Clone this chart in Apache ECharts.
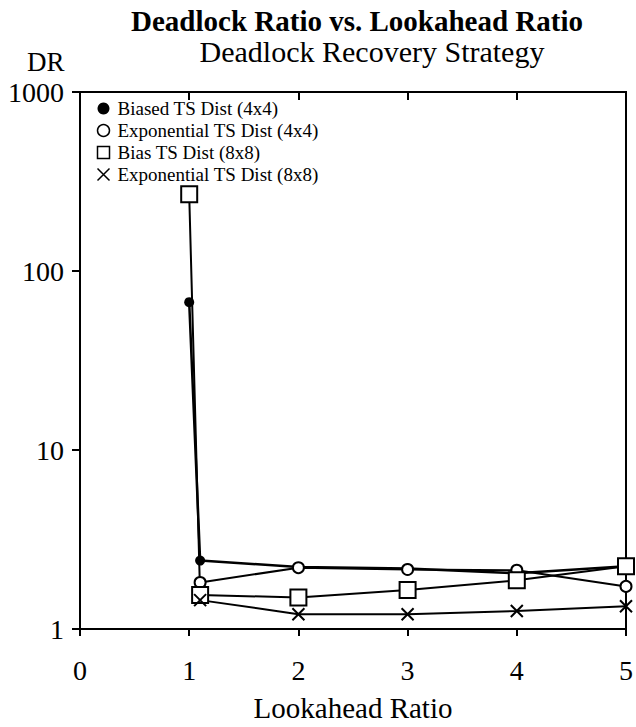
<!DOCTYPE html>
<html>
<head>
<meta charset="utf-8">
<script src="https://cdn.jsdelivr.net/npm/echarts@6/dist/echarts.min.js"></script>
<style>
  html, body { margin: 0; padding: 0; background: #fff; }
  #chart { width: 636px; height: 727px; }
</style>
</head>
<body>
<div id="chart"></div>
<script>
// lookahead ratios
const lookahead = [1, 1.1, 2, 3, 4, 5];
// deadlock ratio per series (null = no point)
const biased4x4 = [67, 2.41, 2.22, 2.18, 2.05, 2.24];
const expo4x4 = [null, 1.82, 2.2, 2.15, 2.13, 1.73];
const bias8x8 = [268, 1.55, 1.5, 1.65, 1.87, 2.24];
const expo8x8 = [null, 1.45, 1.21, 1.21, 1.26, 1.34];
const seriesNames = [
  "Biased TS Dist (4x4)",
  "Exponential TS Dist (4x4)",
  "Bias TS Dist (8x8)",
  "Exponential TS Dist (8x8)"
];
const xTicks = [0, 1, 2, 3, 4, 5];
const yTicks = [1, 10, 100, 1000];

const FONT = "'Liberation Serif', 'Times New Roman', serif";
const CROSS = "path://M0,0L10,10M10,0L0,10";

function pairs(vals) {
  const out = [];
  vals.forEach((v, i) => { if (v != null) out.push([lookahead[i], v]); });
  return out;
}

const chart = echarts.init(document.getElementById("chart"), null, { renderer: "svg" });

const option = {
  animation: false,
  backgroundColor: "#fff",
  title: [
    {
      text: "Deadlock Ratio vs. Lookahead Ratio",
      left: 352, top: 1, textAlign: "center",
      textStyle: { fontFamily: FONT, fontWeight: "bold", fontSize: 29, color: "#000" }
    },
    {
      text: "Deadlock Recovery Strategy",
      left: 367, top: 31, textAlign: "center",
      textStyle: { fontFamily: FONT, fontWeight: "normal", fontSize: 30, color: "#000" }
    }
  ],
  graphic: [
    {
      type: "text", left: 27, top: 48,
      style: { text: "DR", font: "27px " + FONT, fill: "#000" }
    }
  ],
  legend: {
    orient: "vertical",
    left: 90, top: 94,
    itemWidth: 12, itemHeight: 12, itemGap: 3,
    textStyle: { fontFamily: FONT, fontSize: 19, color: "#000", padding: [0, 0, 0, 3] },
    data: [
      { name: seriesNames[0], icon: "circle", itemStyle: { color: "#000", borderWidth: 0 } },
      { name: seriesNames[1], icon: "circle", itemStyle: { color: "#fff", borderColor: "#000", borderWidth: 1.5 } },
      { name: seriesNames[2], icon: "rect", itemStyle: { color: "#fff", borderColor: "#000", borderWidth: 1.5 } },
      { name: seriesNames[3], icon: CROSS, itemStyle: { color: "none", borderColor: "#000", borderWidth: 1.5 } }
    ]
  },
  grid: {
    left: 80, right: 8, top: 92, bottom: 95,
    show: true, borderColor: "#000", borderWidth: 2, backgroundColor: "transparent"
  },
  xAxis: [
    {
      type: "value", min: 0, max: 5, interval: 1,
      name: "Lookahead Ratio", nameLocation: "middle", nameGap: 64,
      nameTextStyle: { fontFamily: FONT, fontSize: 29, color: "#000" },
      axisLine: { lineStyle: { color: "#000", width: 2 } },
      axisTick: { show: true, length: 7, lineStyle: { color: "#000", width: 2 } },
      axisLabel: {
        fontFamily: FONT, fontSize: 28, color: "#000", margin: 27,
        formatter: v => (xTicks.indexOf(v) >= 0 ? String(v) : "")
      },
      splitLine: { show: false }
    },
    {
      type: "value", min: 0, max: 5, interval: 1, position: "top",
      axisLine: { show: true, lineStyle: { color: "#000", width: 2 } },
      axisTick: { show: true, inside: true, length: 8, lineStyle: { color: "#000", width: 2 } },
      axisLabel: { show: false },
      splitLine: { show: false }
    }
  ],
  yAxis: {
    type: "log", logBase: 10, min: 1, max: 1000,
    axisLine: { show: true, lineStyle: { color: "#000", width: 2 } },
    axisTick: { show: true, length: 8, lineStyle: { color: "#000", width: 2 } },
    minorTick: { show: false },
    axisLabel: {
      fontFamily: FONT, fontSize: 28, color: "#000", margin: 16,
      formatter: v => {
        const r = Math.round(v);
        return yTicks.indexOf(r) >= 0 ? String(r) : "";
      }
    },
    splitLine: { show: false }
  },
  series: [
    {
      name: seriesNames[0], type: "line", data: pairs(biased4x4),
      symbol: "circle", symbolSize: 10,
      itemStyle: { color: "#000" },
      lineStyle: { color: "#000", width: 2.5 }
    },
    {
      name: seriesNames[1], type: "line", data: pairs(expo4x4),
      symbol: "emptyCircle", symbolSize: 11,
      itemStyle: { color: "#000", borderWidth: 2 },
      lineStyle: { color: "#000", width: 2 }
    },
    {
      name: seriesNames[2], type: "line", data: pairs(bias8x8),
      symbol: "rect", symbolSize: 16,
      itemStyle: { color: "#fff", borderColor: "#000", borderWidth: 2 },
      lineStyle: { color: "#000", width: 2 }
    },
    {
      name: seriesNames[3], type: "line", data: pairs(expo8x8),
      symbol: CROSS, symbolSize: 12,
      itemStyle: { color: "none", borderColor: "#000", borderWidth: 2 },
      lineStyle: { color: "#000", width: 2 }
    }
  ]
};

chart.setOption(option);
</script>
</body>
</html>
